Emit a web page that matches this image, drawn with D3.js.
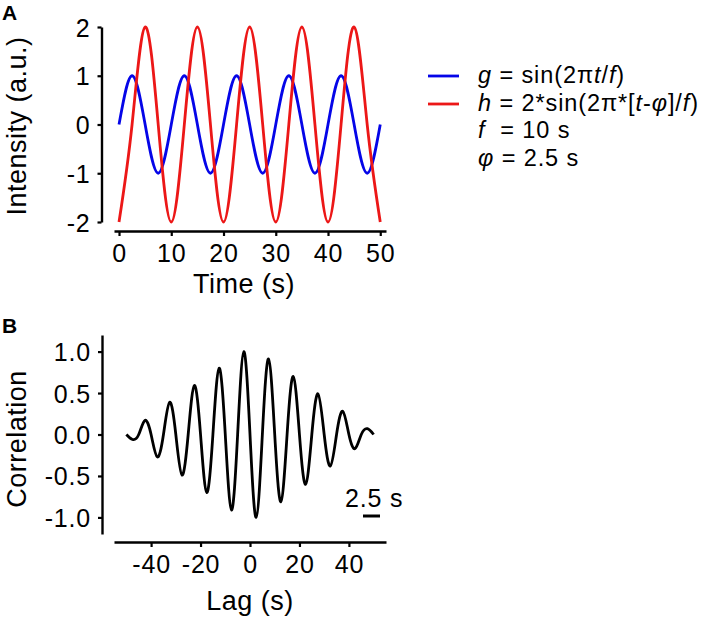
<!DOCTYPE html>
<html>
<head>
<meta charset="utf-8">
<script src="https://cdn.jsdelivr.net/npm/d3@7"></script>
<style>
  html, body { margin: 0; padding: 0; background: #fff; }
  svg { display: block; font-family: "Liberation Sans", Arial, Helvetica, sans-serif; }
</style>
</head>
<body>
<svg id="chart" width="708" height="621"></svg>
<script>
// ---------- Data ----------
// Panel A: time samples (s)
const timePoints = [0, 2.5, 5, 7.5, 10, 12.5, 15, 17.5, 20, 22.5, 25, 27.5, 30, 32.5, 35, 37.5, 40, 42.5, 45, 47.5, 50];
// g = sin(2*pi*t/f)
const gValues = [0, 1, 0, -1, 0, 1, 0, -1, 0, 1, 0, -1, 0, 1, 0, -1, 0, 1, 0, -1, 0];
// h = 2*sin(2*pi*[t-phi]/f)
const hValues = [-2, 0, 2, 0, -2, 0, 2, 0, -2, 0, 2, 0, -2, 0, 2, 0, -2, 0, 2, 0, -2];

// Panel B: lag samples (s) and correlation
const lagPoints = [-50, -47.5, -45, -42.5, -40, -37.5, -35, -32.5, -30, -27.5, -25, -22.5, -20, -17.5, -15, -12.5, -10, -7.5, -5, -2.5,
                   0, 2.5, 5, 7.5, 10, 12.5, 15, 17.5, 20, 22.5, 25, 27.5, 30, 32.5, 35, 37.5, 40, 42.5, 45, 47.5, 50];
const corrValues = [0, -0.06, 0, 0.17, 0, -0.27, 0, 0.39, 0, -0.49, 0, 0.59, 0, -0.70, 0, 0.80, 0, -0.91, 0, 1.00,
                    0, -1.00, 0, 0.91, 0, -0.81, 0, 0.70, 0, -0.60, 0, 0.49, 0, -0.38, 0, 0.28, 0, -0.17, 0, 0.07, 0];

// Tick labels
const timeTicks = [0, 10, 20, 30, 40, 50];
const intensityTicks = [-2, -1, 0, 1, 2];
const lagTicks = [-40, -20, 0, 20, 40];
const corrTicks = [-1.0, -0.5, 0.0, 0.5, 1.0];

// Legend
const legendSeries = ["g", "h"];
const seriesColors = { g: "#0505e8", h: "#ec1717" };

// ---------- Drawing ----------
const svg = d3.select("#chart");
const TICK_FONT = 25, TITLE_FONT = 27, LEGEND_FONT = 23.5;
const hyphen = f => (d => f(d).replace("\u2212", "-"));

function styleAxis(g) {
  g.selectAll(".domain").attr("stroke", "#000").attr("stroke-width", 2.4);
  g.selectAll(".tick line").attr("stroke", "#000").attr("stroke-width", 2.2);
  g.selectAll(".tick text").attr("fill", "#000").attr("font-size", TICK_FONT)
    .attr("letter-spacing", 0.8)
    .attr("font-family", '"Liberation Sans", Arial, Helvetica, sans-serif');
}

// ----- Panel A -----
const xA = d3.scaleLinear().domain([-0.96, 51.1]).range([114, 386]);
const yA = d3.scaleLinear().domain([-2, 2]).range([222, 27]);

const axA_x = svg.append("g").attr("transform", "translate(0,231)")
  .call(d3.axisBottom(xA).tickValues(timeTicks).tickSizeInner(5).tickSizeOuter(0).tickPadding(8).tickFormat(hyphen(d3.format("d"))));
styleAxis(axA_x);
axA_x.selectAll(".tick text").attr("dy", "0.71em");

const axA_y = svg.append("g").attr("transform", "translate(101.5,0)")
  .call(d3.axisLeft(yA).tickValues(intensityTicks).tickSizeInner(4).tickSizeOuter(0).tickPadding(7).tickFormat(hyphen(d3.format("d"))));
styleAxis(axA_y);
axA_y.selectAll(".tick text").attr("dy", "0.36em");

const lineA = (vals) => d3.line()
  .x((d, i) => xA(timePoints[i]))
  .y(d => yA(d))
  .curve(d3.curveNatural)(vals);

svg.append("path").attr("d", lineA(gValues)).attr("fill", "none")
  .attr("stroke", seriesColors.g).attr("stroke-width", 2.8);
svg.append("path").attr("d", lineA(hValues)).attr("fill", "none")
  .attr("stroke", seriesColors.h).attr("stroke-width", 2.8);

svg.append("text").attr("x", 244).attr("y", 293).attr("text-anchor", "middle")
  .attr("font-size", TITLE_FONT).attr("letter-spacing", 0.5).text("Time (s)");
svg.append("text").attr("transform", "translate(26,126) rotate(-90)").attr("text-anchor", "middle")
  .attr("font-size", TITLE_FONT).attr("letter-spacing", 0.5).text("Intensity (a.u.)");
svg.append("text").attr("x", 2).attr("y", 20).attr("font-size", 21).attr("font-weight", "bold").text("A");

// Legend
const legend = svg.append("g");
const legendRows = [
  [["g", true], [" = sin(2π", false], ["t", true], ["/", false], ["f", true], [")", false]],
  [["h", true], [" = 2*sin(2π*[", false], ["t", true], ["-", false], ["φ", true], ["]/", false], ["f", true], [")", false]],
  [["f", true], ["\u00a0 = 10 s", false]],
  [["φ", true], [" = 2.5 s", false]]
];
legendSeries.forEach((s, i) => {
  legend.append("line").attr("x1", 428).attr("x2", 459)
    .attr("y1", 76 + i * 28).attr("y2", 76 + i * 28)
    .attr("stroke", seriesColors[s]).attr("stroke-width", 2.8);
});
legendRows.forEach((row, i) => {
  const t = legend.append("text").attr("x", 478).attr("y", 83 + i * 27.5)
    .attr("font-size", LEGEND_FONT).attr("letter-spacing", 0.9).style("white-space", "pre");
  row.forEach(([str, it]) => {
    t.append("tspan").attr("font-style", it ? "italic" : "normal").text(str);
  });
});

// ----- Panel B -----
const xB = d3.scaleLinear().domain([-55, 55]).range([114, 386]);
const yB = d3.scaleLinear().domain([-1.2, 1.2]).range([534, 335]);

const axB_x = svg.append("g").attr("transform", "translate(0,542)")
  .call(d3.axisBottom(xB).tickValues(lagTicks).tickSizeInner(5).tickSizeOuter(0).tickPadding(8).tickFormat(hyphen(d3.format("d"))));
styleAxis(axB_x);
axB_x.selectAll(".tick text").attr("dy", "0.71em");

const axB_y = svg.append("g").attr("transform", "translate(102,0)")
  .call(d3.axisLeft(yB).tickValues(corrTicks).tickSizeInner(4).tickSizeOuter(0).tickPadding(7).tickFormat(hyphen(d3.format(".1f"))));
styleAxis(axB_y);
axB_y.selectAll(".tick text").attr("dy", "0.36em");

const lineB = d3.line()
  .x((d, i) => xB(lagPoints[i]))
  .y(d => yB(d))
  .curve(d3.curveNatural);
svg.append("path").attr("d", lineB(corrValues)).attr("fill", "none")
  .attr("stroke", "#000").attr("stroke-width", 2.8);

svg.append("text").attr("x", 250).attr("y", 610).attr("text-anchor", "middle")
  .attr("font-size", TITLE_FONT).attr("letter-spacing", 0.5).text("Lag (s)");
svg.append("text").attr("transform", "translate(26,439) rotate(-90)").attr("text-anchor", "middle")
  .attr("font-size", TITLE_FONT).attr("letter-spacing", 0.5).text("Correlation");
svg.append("text").attr("x", 2).attr("y", 333).attr("font-size", 21).attr("font-weight", "bold").text("B");

// Scale bar annotation
svg.append("text").attr("x", 345).attr("y", 507).attr("font-size", TICK_FONT).attr("letter-spacing", 0.8).text("2.5 s");
svg.append("line").attr("x1", 363).attr("x2", 380).attr("y1", 516).attr("y2", 516)
  .attr("stroke", "#000").attr("stroke-width", 3);
</script>
</body>
</html>
